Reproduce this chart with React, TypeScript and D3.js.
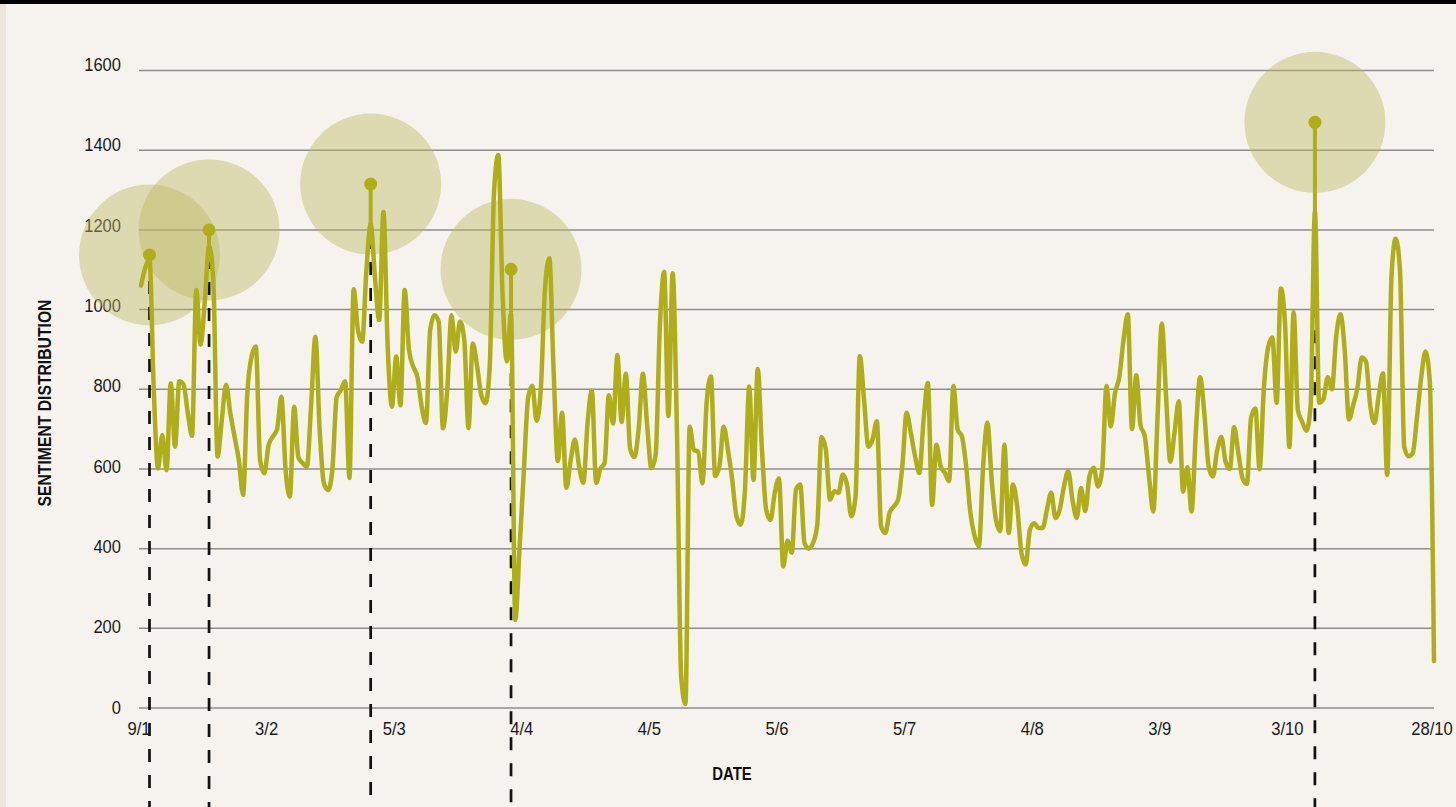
import React from "react";
import * as d3 from "d3";

// daily sentiment values (index = day)
const sentiment = [
  1060, 1105, 1125, 800, 601, 685, 597, 815, 656, 820,
  812, 741, 683, 1049, 912, 1020, 1160, 1074, 631, 723,
  811, 740, 681, 622, 535, 790, 882, 907, 622, 589,
  660, 681, 700, 781, 597, 530, 756, 629, 615, 606,
  760, 932, 700, 564, 547, 600, 780, 798, 820, 577,
  1051, 949, 919, 1100, 1215, 1082, 974, 1245, 907, 756,
  882, 760, 1049, 899, 857, 830, 756, 715, 949, 986,
  969, 702, 798, 986, 894, 970, 925, 702, 915, 860,
  786, 765, 860, 1295, 1388, 1040, 870, 990, 221, 400,
  592, 777, 809, 721, 800, 1055, 1129, 850, 620, 741,
  553, 620, 674, 607, 565, 716, 797, 565, 600, 615,
  785, 714, 886, 718, 839, 651, 630, 700, 839, 710,
  602, 635, 960, 1095, 733, 1091, 700, 80, 10, 706,
  648, 643, 564, 768, 832, 582, 607, 706, 648, 573,
  481, 460, 548, 807, 572, 851, 648, 497, 472, 540,
  576, 355, 420, 390, 548, 561, 414, 400, 414, 460,
  680, 649, 523, 544, 540, 586, 560, 481, 531, 883,
  774, 656, 674, 720, 456, 439, 490, 506, 523, 607,
  741, 690, 632, 590, 724, 816, 510, 661, 607, 590,
  569, 808, 699, 682, 607, 490, 431, 406, 607, 716,
  573, 473, 444, 661, 439, 561, 506, 389, 360, 448,
  464, 452, 452, 498, 540, 477, 498, 556, 594, 523,
  477, 552, 494, 582, 603, 556, 600, 808, 707, 790,
  830, 923, 988, 700, 835, 710, 682, 581, 493, 729,
  965, 784, 618, 692, 770, 543, 604, 493, 692, 830,
  740, 608, 581, 645, 680, 618, 600, 705, 640, 576,
  562, 729, 752, 599, 803, 905, 930, 766, 1053, 960,
  655, 993, 747, 719, 696, 760, 1247, 766, 775, 830,
  800, 932, 988, 900, 724, 760, 803, 880, 870, 760,
  715, 784, 840, 585, 1081, 1178, 1099, 655, 632, 640,
  729, 830, 895, 821, 118,
];

const tickDays = [0, 30, 60, 90, 120, 150, 180, 210, 240, 270, 304];
const tickLabels = ["9/1", "3/2", "5/3", "4/4", "4/5", "5/6", "5/7", "4/8", "3/9", "3/10", "28/10"];
const yTicks = [0, 200, 400, 600, 800, 1000, 1200, 1400, 1600];

// highlighted peaks: day index and the value of the marker dot
const peakDays = [2, 16, 54, 87, 276];
const peakValues = [1137, 1200, 1315, 1101, 1470];

const W = 1456;
const H = 807;
const OLIVE = "#afae1a";
const FONT = "'Liberation Sans', Arial, sans-serif";

export default function App() {
  const x = d3.scaleLinear().domain([0, sentiment.length - 1]).range([141, 1434]);
  const y = d3.scaleLinear().domain([0, 1600]).range([708, 70.5]);
  // tick labels sit slightly off the grid in the original
  const labelY = d3.scaleLinear().domain([0, 1600]).range([713.5, 71]);

  const line = d3
    .line<number>()
    .x((_, i) => x(i))
    .y((d) => y(d))
    .curve(d3.curveMonotoneX);

  return (
    <div style={{ position: "fixed", left: 0, top: 0 }}>
      <svg width={W} height={H} style={{ display: "block" }}>
        <rect width={W} height={H} fill="#f6f3ee" />
        <rect width={6} height={H} fill="#ece6dc" />
        <rect width={W} height={4} fill="#000" />

        {/* grid + y labels (condensed look via scaleX) */}
        {yTicks.map((t) => (
          <g key={t}>
            <line x1={139} x2={1434} y1={y(t)} y2={y(t)} stroke="#8e8e8e" strokeWidth={1.5} />
            <text
              transform={`translate(121,${labelY(t)}) scale(0.87,1)`}
              textAnchor="end"
              fontFamily={FONT}
              fontSize={19}
              fill="#1a1a1a"
            >
              {t}
            </text>
          </g>
        ))}

        {/* x labels */}
        {tickDays.map((d, i) => (
          <text
            key={d}
            transform={`translate(${x(d) - 2},735) scale(0.9,1)`}
            textAnchor="middle"
            fontFamily={FONT}
            fontSize={18.5}
            fill="#1a1a1a"
          >
            {tickLabels[i]}
          </text>
        ))}

        {/* halos */}
        {peakDays.map((d, i) => (
          <circle key={d} cx={x(d)} cy={y(peakValues[i])} r={70.5} fill="#bdb861" fillOpacity={0.44} />
        ))}

        {/* dashed drop lines */}
        {peakDays.map((d, i) => (
          <line
            key={d}
            x1={x(d)}
            x2={x(d)}
            y1={y(peakValues[i])}
            y2={H}
            stroke="#111"
            strokeWidth={2.7}
            strokeDasharray="13,13"
          />
        ))}

        <path
          d={line(sentiment) || ""}
          fill="none"
          stroke={OLIVE}
          strokeWidth={4.5}
          strokeLinejoin="round"
          strokeLinecap="round"
        />

        {/* stems + dots */}
        {peakDays.map((d, i) => (
          <g key={d}>
            <line x1={x(d)} x2={x(d)} y1={y(sentiment[d])} y2={y(peakValues[i])} stroke={OLIVE} strokeWidth={4} />
            <circle cx={x(d)} cy={y(peakValues[i])} r={6.5} fill={OLIVE} />
          </g>
        ))}

        <text
          transform="translate(732,780) scale(0.83,1)"
          textAnchor="middle"
          fontFamily={FONT}
          fontWeight="bold"
          fontSize={18}
          fill="#111"
        >
          DATE
        </text>
        <text
          transform="translate(51,403) rotate(-90) scale(0.85,1)"
          textAnchor="middle"
          fontFamily={FONT}
          fontWeight="bold"
          fontSize={18.5}
          fill="#111"
        >
          SENTIMENT DISTRIBUTION
        </text>
      </svg>
    </div>
  );
}
